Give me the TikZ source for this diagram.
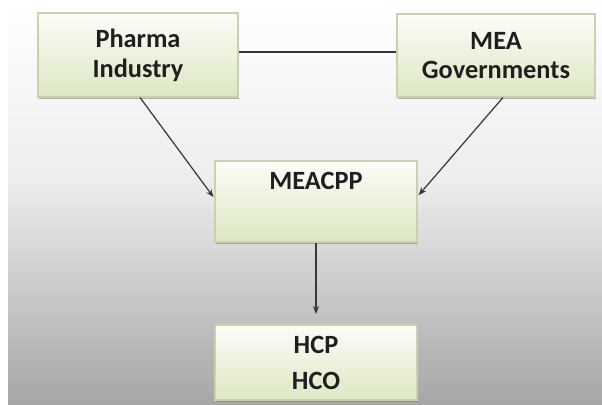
\documentclass[tikz,border=0pt]{standalone}
\usepackage{fontspec}
\setmainfont{Carlito}
\usetikzlibrary{shadows,calc,arrows.meta}
\definecolor{boxtop}{HTML}{FCFDF8}
\definecolor{boxbot}{HTML}{DDE7C3}
\definecolor{boxline}{HTML}{C8D1B0}
\definecolor{connc}{HTML}{383838}
\begin{document}
\begin{tikzpicture}[x=0.02cm,y=-0.02cm,
 box/.style={draw=boxline, line width=0.6pt, top color=boxtop, bottom color=boxbot, inner sep=0pt,
   drop shadow={shadow xshift=0.7pt, shadow yshift=-1.2pt, fill=black!50, opacity=0.6}},
 lbl/.style={font=\bfseries\fontsize{15}{17}\selectfont, align=center, text=black!88},
 connline/.style={draw=connc, line width=0.7pt},
 arr/.style={connline, -{Stealth[length=4.5pt,width=3.5pt]}}]
\useasboundingbox (0,0) rectangle (602,405);
\shade[top color=white, bottom color=black!7] (8,0) rectangle (602,181);
\shade[top color=black!7, bottom color=black!35] (8,180) rectangle (602,405);
% boxes
\node[box, minimum width=4cm, minimum height=1.68cm] (pharma) at (138,55) {};
\node[box, minimum width=3.96cm, minimum height=1.66cm] (mea) at (496,55.5) {};
\node[box, minimum width=4.04cm, minimum height=1.62cm] (meacpp) at (316,201.5) {};
\node[box, minimum width=4.04cm, minimum height=1.5cm] (hcp) at (316,362.5) {};
% labels
\node[lbl] (pharmat) at (pharma.center) {Pharma\\Industry};
\node[lbl] (meat) at (mea.center) {MEA\\Governments};
\node[lbl, anchor=base] (meacppt) at (316,190) {MEACPP};
\node[lbl, font=\bfseries\fontsize{15}{20.5}\selectfont] (hcpt) at (hcp.center) {HCP\\HCO};
% connectors
\coordinate (pe) at ($(pharma.east)+(0,-3)$);
\draw[connline] (pe) -- (pe -| mea.west);
\draw[arr, shorten >=1pt] ($(pharma.south west)!0.51!(pharma.south east)$) -- ($(meacpp.west)+(0,-3)$);
\draw[arr, shorten >=1pt] ($(mea.south west)!0.535!(mea.south east)$) -- ($(meacpp.east)+(0,-5)$);
\draw[arr, shorten >=6pt] (meacpp.south) -- (hcp.north);
\end{tikzpicture}
\end{document}
